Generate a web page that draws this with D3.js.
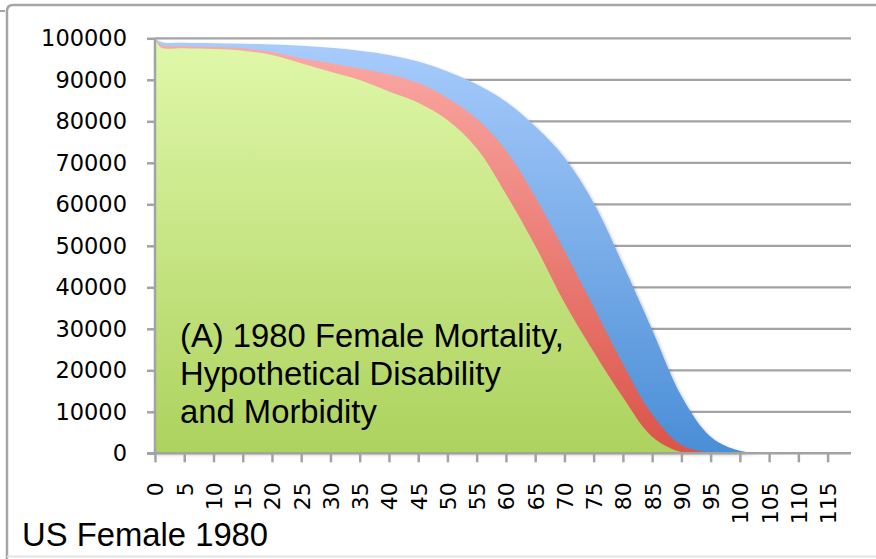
<!DOCTYPE html>
<html>
<head>
<meta charset="utf-8">
<script src="https://cdnjs.cloudflare.com/ajax/libs/d3/7.8.5/d3.min.js"></script>
<style>
  body { margin: 0; background: #fff; }
  svg { display: block; }
</style>
</head>
<body>
<div class="svg-container"></div>
<script>
// ages (one point every 5 years, plus age 1)
var ages = [0, 1, 5, 10, 15, 20, 25, 30, 35, 40, 45, 50, 55, 60, 65, 70, 75, 80, 85, 90, 95, 100, 105, 110, 115, 119];
// survivors out of 100000
var mortality  = [100000, 99100, 98900, 98800, 98700, 98500, 98200, 97700, 97000, 96000, 94400, 92000, 88900, 84700, 78800, 71300, 60300, 45500, 29800, 13800, 4000, 600, 0, 0, 0, 0];
var disability = [100000, 98400, 98100, 97900, 97600, 96700, 95200, 94000, 92700, 91300, 89200, 85600, 80600, 73000, 61800, 48800, 35300, 21600, 9400, 2000, 200, 0, 0, 0, 0, 0];
var morbidity  = [100000, 97800, 97600, 97400, 97000, 96000, 94000, 91950, 89950, 87200, 84500, 80300, 73500, 62500, 50000, 36300, 24500, 13500, 4000, 300, 0, 0, 0, 0, 0, 0];
var yTicks = [0, 10000, 20000, 30000, 40000, 50000, 60000, 70000, 80000, 90000, 100000];
var xTicks = d3.range(0, 116, 5);
var noteLines = ["(A) 1980 Female Mortality,", "Hypothetical Disability", "and Morbidity"];
var caption = "US Female 1980";

function draw() {
  "use strict";
  var width = 876, height = 559;

  var svg = d3.select('.svg-container').append('svg')
      .attr('width', width).attr('height', height);

  var x = d3.scaleLinear().domain([0, 119]).range([155, 851]);
  var y = d3.scaleLinear().domain([0, 100000]).range([453.3, 38.3]);

  var defs = svg.append('defs');
  function grad(id, top, bottom) {
    var g = defs.append('linearGradient').attr('id', id)
        .attr('gradientUnits', 'userSpaceOnUse')
        .attr('x1', 0).attr('x2', 0).attr('y1', y(100000)).attr('y2', y(0));
    g.append('stop').attr('offset', 0).attr('stop-color', top);
    g.append('stop').attr('offset', 1).attr('stop-color', bottom);
  }
  grad('gBlue', '#a9ccfc', '#4a8ed6');
  grad('gRed', '#fcaaa6', '#da5449');
  grad('gGreen', '#e0f8aa', '#add25e');

  var sh = defs.append('filter').attr('id', 'shadow')
      .attr('x', '-5%').attr('y', '-5%').attr('width', '115%').attr('height', '115%');
  sh.append('feDropShadow').attr('dx', 1.5).attr('dy', 1.5).attr('stdDeviation', 1.5)
      .attr('flood-color', '#000').attr('flood-opacity', 0.25);

  // frame
  svg.append('path').attr('d', 'M7,559 L7,11 Q7,5 13,5 L876,5')
      .attr('fill', 'none').attr('stroke', '#a6a6a6').attr('stroke-width', 2.5);
  svg.append('line').attr('x1', 0).attr('x2', 5).attr('y1', 11).attr('y2', 11)
      .attr('stroke', '#a6a6a6').attr('stroke-width', 2);
  svg.append('line').attr('x1', 7).attr('x2', 876).attr('y1', 556.5).attr('y2', 556.5)
      .attr('stroke', '#e4e4e4').attr('stroke-width', 2);

  // gridlines
  svg.append('g').selectAll('line').data(yTicks.slice(1)).enter().append('line')
      .attr('x1', x(0)).attr('x2', x(119))
      .attr('y1', function(d) { return y(d); }).attr('y2', function(d) { return y(d); })
      .attr('stroke', '#a3a3a3').attr('stroke-width', 2.2);

  var rows = ages.map(function(a, i) {
    return {age: a, m: mortality[i], d: disability[i], b: morbidity[i]};
  });
  function area(key) {
    return d3.area().curve(d3.curveCatmullRom.alpha(0.5))
        .x(function(d) { return x(d.age); })
        .y0(y(0))
        .y1(function(d) { return Math.min(y(0), y(d[key])); });
  }
  var plot = svg.append('g').attr('class', 'areas');
  plot.append('path').datum(rows).attr('d', area('m')).attr('fill', 'url(#gBlue)').attr('filter', 'url(#shadow)');
  plot.append('path').datum(rows).attr('d', area('d')).attr('fill', 'url(#gRed)');
  plot.append('path').datum(rows).attr('d', area('b')).attr('fill', 'url(#gGreen)');

  // y axis
  var yAxis = svg.append('g').attr('transform', 'translate(' + x(0) + ',0)')
      .call(d3.axisLeft(y).tickValues(yTicks).tickSize(8).tickPadding(20)
          .tickFormat(d3.format('d')));
  yAxis.select('.domain').attr('stroke', '#a3a3a3').attr('stroke-width', 2.5)
      .attr('d', 'M0,' + y(100000) + 'V' + y(0));
  yAxis.selectAll('.tick line').attr('stroke', '#a3a3a3').attr('stroke-width', 2.5);
  yAxis.selectAll('.tick text').attr('fill', '#000')
      .style('font-family', 'DejaVu Sans').style('font-size', '22.5px');

  // x axis
  var xAxis = svg.append('g').attr('transform', 'translate(0,' + y(0) + ')')
      .call(d3.axisBottom(x).tickValues(xTicks).tickSize(9).tickFormat(d3.format('d')));
  xAxis.select('.domain').attr('stroke', '#a3a3a3').attr('stroke-width', 2.5)
      .attr('d', 'M' + (x(0) - 8) + ',0H' + x(119));
  xAxis.selectAll('.tick line').attr('stroke', '#a3a3a3').attr('stroke-width', 2.5);
  xAxis.selectAll('.tick text').attr('fill', '#000')
      .style('font-family', 'DejaVu Sans').style('font-size', '22px')
      .attr('text-anchor', 'end')
      .attr('transform', 'rotate(-90)')
      .attr('x', -29).attr('y', 0).attr('dy', '0.36em');

  // annotation
  svg.append('text').attr('x', 180).attr('y', 347)
      .style('font-family', 'Liberation Sans, Arial').style('font-size', '32.8px')
      .selectAll('tspan').data(noteLines).enter().append('tspan')
      .attr('x', 180).attr('dy', function(d, i) { return i ? 38 : 0; })
      .text(function(d) { return d; });

  svg.append('text').attr('x', 22).attr('y', 546)
      .style('font-family', 'Liberation Sans, Arial').style('font-size', '32.8px')
      .text(caption);
}
draw();
</script>
</body>
</html>
